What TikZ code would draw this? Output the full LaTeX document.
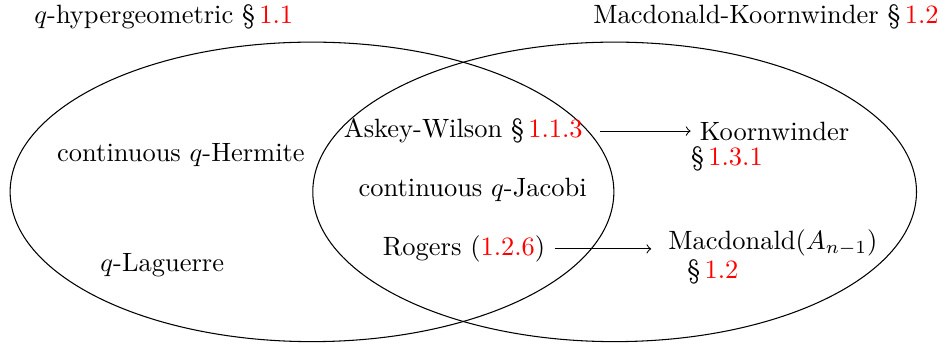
\documentclass[tikz,border=0pt]{standalone}
\usepackage{xcolor}
\usetikzlibrary{positioning}

\newcommand{\secref}[1]{\S\,\textcolor{red}{#1}}

\begin{document}
\begin{tikzpicture}[scale=1.036]
    \useasboundingbox (0,0) rectangle (12.09,-4.40);
    % the two families
    \draw (4.0,-2.46) ellipse (3.87 and 1.92);
    \draw (7.88,-2.46) ellipse (3.87 and 1.92);
    \node (hyper) at (2.10,-0.22) {$q$-hypergeometric \secref{1.1}};
    \node (mkw) at (9.82,-0.22) {Macdonald-Koornwinder \secref{1.2}};
    % left part
    \node (herm) at (2.32,-1.99) {continuous $q$-Hermite};
    \node (lag) at (2.08,-3.40) {$q$-Laguerre};
    % intersection
    \node (askey) at (5.94,-1.68) {Askey-Wilson \secref{1.1.3}};
    \node (jacobi) at (6.06,-2.44) {continuous $q$-Jacobi};
    \node (rogers) at (5.95,-3.19) {Rogers (\textcolor{red}{1.2.6})};
    % right part
    \node (koorn) at (9.93,-1.69) {Koornwinder};
    \node (koornref) at (9.32,-2.04) {\secref{1.3.1}};
    \node (macd) at (9.91,-3.12) {Macdonald($A_{n-1}$)};
    \node (macdref) at (9.14,-3.48) {\secref{1.2}};
    \draw[->, shorten <=3pt] (askey.east) -- (koorn.west |- askey.east);
    \draw[->, shorten >=3pt] (rogers.east) -- (macd.west |- rogers.east);
\end{tikzpicture}
\end{document}
